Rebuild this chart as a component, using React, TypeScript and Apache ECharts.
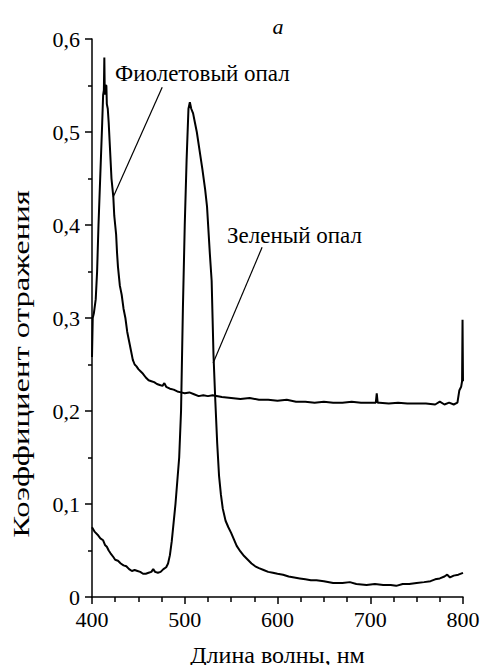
import React, { useEffect, useRef } from "react";
import * as echarts from "echarts";

const violetX = [400, 400.8, 402, 404, 405.5, 407, 409, 411, 412, 412.8, 413.3, 413.8, 414.5, 415.5, 416, 417, 418, 419, 420, 421, 422, 423, 424, 425, 426, 427, 428, 429, 430, 431, 432, 434, 436, 438, 440, 442, 444, 446, 448, 450, 452, 455, 458, 461, 464, 467, 470, 473, 476, 478, 480, 484, 488, 492, 496, 500, 505, 510, 515, 520, 525, 530, 540, 550, 560, 570, 580, 590, 600, 610, 620, 630, 640, 650, 660, 670, 680, 690, 700, 706, 707, 708, 710, 720, 730, 740, 750, 760, 770, 775, 780, 785, 790, 794, 796, 798, 799, 799.5, 800];
const violetY = [0.258, 0.3, 0.305, 0.32, 0.35, 0.4, 0.455, 0.51, 0.54, 0.545, 0.58, 0.54, 0.55, 0.55, 0.53, 0.525, 0.51, 0.49, 0.47, 0.45, 0.44, 0.43, 0.41, 0.4, 0.39, 0.37, 0.355, 0.345, 0.335, 0.33, 0.325, 0.31, 0.3, 0.285, 0.275, 0.265, 0.255, 0.25, 0.248, 0.245, 0.243, 0.24, 0.236, 0.233, 0.232, 0.231, 0.229, 0.228, 0.227, 0.23, 0.226, 0.224, 0.223, 0.221, 0.22, 0.219, 0.22, 0.218, 0.216, 0.217, 0.216, 0.217, 0.215, 0.214, 0.213, 0.214, 0.212, 0.212, 0.211, 0.212, 0.21, 0.21, 0.209, 0.21, 0.209, 0.209, 0.21, 0.209, 0.209, 0.209, 0.219, 0.209, 0.209, 0.208, 0.209, 0.208, 0.208, 0.208, 0.207, 0.21, 0.207, 0.209, 0.207, 0.209, 0.222, 0.226, 0.232, 0.298, 0.232];

const greenX = [400, 403, 406, 409, 412, 414, 416, 418, 420, 423, 425, 428, 431, 434, 437, 440, 443, 446, 449, 452, 455, 458, 461, 464, 466, 468, 471, 474, 477, 480, 482, 484, 486, 488, 490, 492, 494, 496, 498, 500, 502, 504, 505.5, 507, 509, 511, 513, 516, 519, 522, 524, 525.5, 527, 529, 530, 531, 533, 535, 537, 539, 541, 544, 547, 550, 553, 556, 560, 564, 568, 572, 576, 580, 585, 590, 595, 600, 606, 612, 618, 624, 630, 636, 642, 650, 660, 670, 678, 685, 696, 705, 714, 722, 728, 735, 742, 750, 758, 765, 770, 775, 780, 783, 786, 790, 795, 800];
const greenY = [0.075, 0.07, 0.067, 0.063, 0.061, 0.056, 0.054, 0.05, 0.047, 0.043, 0.04, 0.039, 0.036, 0.034, 0.033, 0.03, 0.028, 0.029, 0.028, 0.027, 0.025, 0.025, 0.026, 0.027, 0.03, 0.027, 0.026, 0.027, 0.03, 0.032, 0.036, 0.045, 0.06, 0.08, 0.1, 0.125, 0.15, 0.2, 0.31, 0.4, 0.47, 0.525, 0.532, 0.525, 0.52, 0.51, 0.5, 0.48, 0.46, 0.438, 0.42, 0.395, 0.37, 0.34, 0.3, 0.26, 0.21, 0.165, 0.13, 0.11, 0.095, 0.082, 0.075, 0.069, 0.062, 0.055, 0.049, 0.044, 0.04, 0.036, 0.033, 0.031, 0.029, 0.027, 0.026, 0.025, 0.024, 0.022, 0.021, 0.02, 0.019, 0.018, 0.018, 0.017, 0.015, 0.015, 0.016, 0.014, 0.013, 0.014, 0.013, 0.013, 0.012, 0.014, 0.014, 0.015, 0.016, 0.017, 0.019, 0.02, 0.022, 0.024, 0.021, 0.023, 0.024, 0.026];

const violetLeader = [[475.7, 0.548], [422.9, 0.43]];
const greenLeader = [[583.4, 0.376], [530.6, 0.2516]];

const xTitle = "Длина волны, нм";
const yTitle = "Коэффициент отражения";
const violetLabel = "Фиолетовый опал";
const greenLabel = "Зеленый опал";
const panelLabel = "a";

const FONT = "Liberation Serif";

export default function App() {
  const ref = useRef<HTMLDivElement>(null);
  useEffect(() => {
    const chart = echarts.init(ref.current!, undefined, { renderer: "svg" });
    const zip = (xs: number[], ys: number[]) => xs.map((x, i) => [x, ys[i]]);
    const leader = (pts: number[][]) => ({
      silent: true,
      symbol: ["none", "none"],
      label: { show: false },
      lineStyle: { color: "#000", width: 1.2, type: "solid" },
      data: [[{ coord: pts[0] }, { coord: pts[1] }]],
    });
    chart.setOption({
      animation: false,
      backgroundColor: "#fff",
      textStyle: { fontFamily: FONT },
      grid: { left: 92, right: 20, top: 39, bottom: 68, containLabel: false, outerBoundsMode: "none" },
      xAxis: {
        type: "value",
        min: 400,
        max: 800,
        interval: 100,
        axisLine: { lineStyle: { color: "#000", width: 1.5 } },
        axisTick: { show: true, length: 7, lineStyle: { color: "#000", width: 1.5 } },
        minorTick: { show: true, splitNumber: 4, length: 5, lineStyle: { color: "#000", width: 1.5 } },
        axisLabel: { fontFamily: FONT, fontSize: 22, color: "#000", margin: 11 },
        splitLine: { show: false },
        minorSplitLine: { show: false },
      },
      yAxis: {
        type: "value",
        min: 0,
        max: 0.6,
        interval: 0.1,
        axisLine: { show: true, lineStyle: { color: "#000", width: 1.5 } },
        axisTick: { show: true, length: 7, lineStyle: { color: "#000", width: 1.5 } },
        minorTick: { show: true, splitNumber: 2, length: 4, lineStyle: { color: "#000", width: 1.5 } },
        axisLabel: {
          fontFamily: FONT,
          fontSize: 22,
          color: "#000",
          margin: 12,
          formatter: (v: number) => (v === 0 ? "0" : v.toFixed(1).replace(".", ",")),
        },
        splitLine: { show: false },
        minorSplitLine: { show: false },
      },
      series: [
        {
          type: "line",
          data: zip(violetX, violetY),
          showSymbol: false,
          lineStyle: { color: "#000", width: 2 },
          markLine: leader(violetLeader),
        },
        {
          type: "line",
          data: zip(greenX, greenY),
          showSymbol: false,
          lineStyle: { color: "#000", width: 2 },
          markLine: leader(greenLeader),
        },
      ],
      graphic: [
        {
          type: "text",
          x: 21,
          y: 364,
          rotation: Math.PI / 2,
          scaleX: 1.42,
          style: { text: yTitle, fontFamily: FONT, fontSize: 23, fill: "#000", align: "center", verticalAlign: "middle" },
        },
        {
          type: "text",
          x: 277.5,
          y: 655,
          style: { text: xTitle, fontFamily: FONT, fontSize: 24, fill: "#000", align: "center", verticalAlign: "middle" },
        },
        {
          type: "text",
          x: 278,
          y: 26,
          style: { text: panelLabel, fontFamily: FONT, fontSize: 22, fontStyle: "italic", fill: "#000", align: "center", verticalAlign: "middle" },
        },
        {
          type: "text",
          x: 115,
          y: 73,
          style: { text: violetLabel, fontFamily: FONT, fontSize: 23, fill: "#000", align: "left", verticalAlign: "middle" },
        },
        {
          type: "text",
          x: 227,
          y: 235,
          style: { text: greenLabel, fontFamily: FONT, fontSize: 23, fill: "#000", align: "left", verticalAlign: "middle" },
        },
      ],
    });
    return () => chart.dispose();
  }, []);
  return <div ref={ref} style={{ position: "absolute", left: 0, top: 0, width: 483, height: 665 }} />;
}
